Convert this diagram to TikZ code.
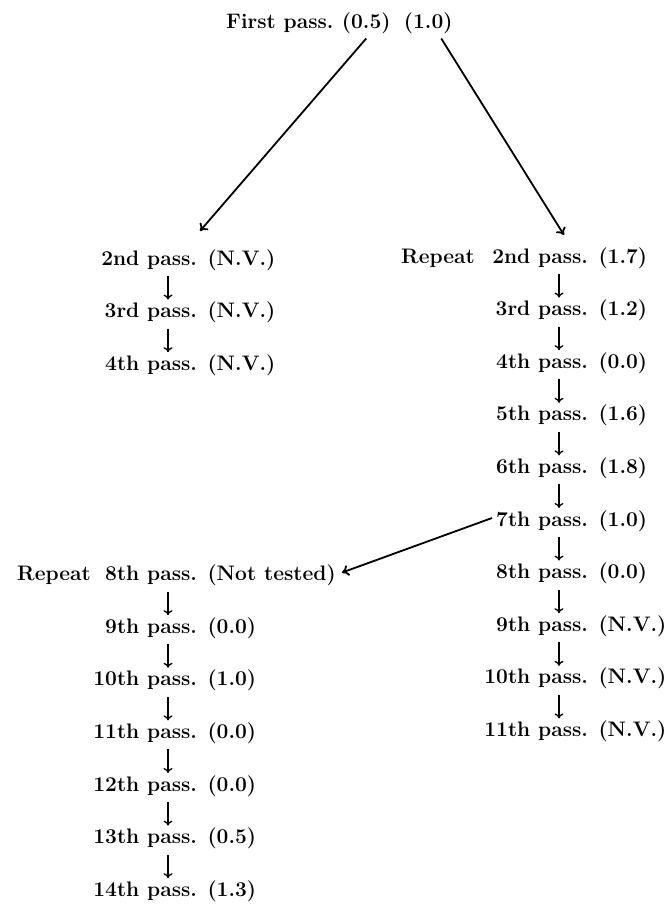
\documentclass[tikz,border=0pt]{standalone}
\usepackage{fontspec}
\usetikzlibrary{arrows.meta}
\begin{document}
\begin{tikzpicture}[x=1pt,y=-1pt,
  lbl/.style={font=\fontsize{21}{25}\selectfont\bfseries, inner sep=0pt, anchor=base west},
  downarrow/.style={-{Computer Modern Rightarrow[length=5pt,width=9pt]}, line width=1.3pt},
  branch/.style={-{Computer Modern Rightarrow[length=7pt,width=11pt]}, line width=1.8pt},
]
\useasboundingbox (0,0) rectangle (667,909);

% heading
\node[lbl] (first) at (226,29) {First pass.};
\node[lbl] (v05) at ([xshift=8pt]first.base east) {(0.5)};
\node[lbl] (v10) at ([xshift=13pt]v05.base east) {(1.0)};

% left branch, passes 2--4
\foreach \i/\ord/\val in {2/2nd/N.V., 3/3rd/N.V., 4/4th/N.V.}
  \node[lbl] (L\i) at (147,{265+(\i-2)*52.6}) {\llap{\ord\ }pass. (\val)};

% right branch, passes 2--11
\foreach \i/\ord/\val in {2/2nd/1.7, 3/3rd/1.2, 4/4th/0.0, 5/5th/1.6, 6/6th/1.8,
    7/7th/1.0, 8/8th/0.0, 9/9th/N.V., 10/10th/N.V., 11/11th/N.V.}
  \node[lbl] (R\i) at (538,{263+(\i-2)*52.6}) {\llap{\ord\ }pass. (\val)};

% repeated run from the 7th pass, passes 8--14
\foreach \i/\ord/\val in {8/8th/Not tested, 9/9th/0.0, 10/10th/1.0, 11/11th/0.0,
    12/12th/0.0, 13/13th/0.5, 14/14th/1.3}
  \node[lbl] (M\i) at (147,{265+(\i-2)*52.6}) {\llap{\ord\ }pass. (\val)};

\node[lbl, anchor=base east] (repR) at ([xshift=-63pt]R2.base west) {Repeat};
\node[lbl] (repL) at (17,{265+6*52.6}) {Repeat};

% branching arrows
\draw[branch] ([yshift=-4pt]v05.south) -- ([xshift=53pt,yshift=34pt]L2.base west);
\draw[branch] ([xshift=13pt,yshift=-4pt]v10.south) -- ([xshift=26pt,yshift=28pt]R2.base west);
\draw[branch] ([xshift=-46pt,yshift=8pt]R7.base west) -- ([xshift=6pt,yshift=8pt]M8.base east);

% pass-to-pass arrows
\foreach \i in {2,3}{
  \pgfmathtruncatemacro\j{\i+1}
  \draw[downarrow] ([xshift=21pt,yshift=-11pt]L\i.base west) -- ([xshift=21pt,yshift=18pt]L\j.base west);
}
\foreach \i in {2,...,10}{
  \pgfmathtruncatemacro\j{\i+1}
  \draw[downarrow] ([xshift=21pt,yshift=-11pt]R\i.base west) -- ([xshift=21pt,yshift=18pt]R\j.base west);
}
\foreach \i in {8,...,13}{
  \pgfmathtruncatemacro\j{\i+1}
  \draw[downarrow] ([xshift=21pt,yshift=-11pt]M\i.base west) -- ([xshift=21pt,yshift=18pt]M\j.base west);
}
\end{tikzpicture}
\end{document}
